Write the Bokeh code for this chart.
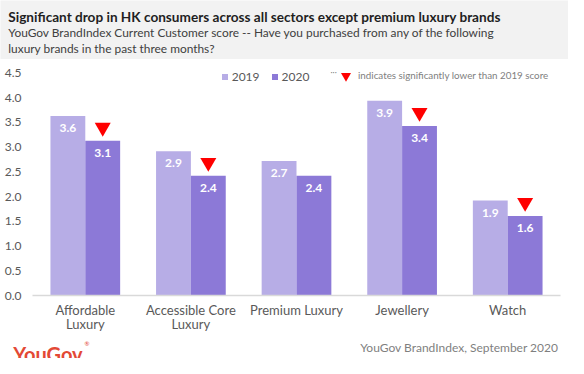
from bokeh.plotting import figure
from bokeh.layouts import column
from bokeh.models import (ColumnDataSource, FactorRange, Range1d, FixedTicker, Label,
                          Legend, LegendItem, PrintfTickFormatter, CategoricalAxis,
                          CustomJSTickFormatter)
from bokeh.transform import dodge
from bokeh.core.properties import value
from bokeh.embed import file_html
from bokeh.resources import INLINE

# ---- data ----
categories = ["Affordable Luxury", "Accessible Core Luxury", "Premium Luxury", "Jewellery", "Watch"]
label_line1 = ["Affordable", "Accessible Core", "Premium Luxury", "Jewellery", "Watch"]
label_line2 = ["Luxury", "Luxury", " ", " ", " "]
score_2019 = [3.63, 2.92, 2.72, 3.94, 1.92]
score_2020 = [3.13, 2.42, 2.42, 3.43, 1.61]
significant_drop = [True, True, False, True, True]
y_ticks = [0.0, 0.5, 1.0, 1.5, 2.0, 2.5, 3.0, 3.5, 4.0, 4.5]
series_names = ["2019", "2020"]

title_text = "Significant drop in HK consumers across all sectors except premium luxury brands"
subtitle_lines = ["YouGov BrandIndex Current Customer score -- Have you purchased from any of the following",
                  "luxury brands in the past three months?"]
note_text = "indicates significantly lower than 2019 score"
source_text = "YouGov BrandIndex, September 2020"
logo_text = "YouGov"

# ---- style ----
C2019 = "#b7ade6"
C2020 = "#8c79d7"
RED = "#ff0000"
LOGO_RED = "#e34935"
HEADER_BG = "#f2f2f2"
FONT = "Lato"
W = 568
HEADER_H = 59
MAIN_H = 275
FOOTER_H = 358 - HEADER_H - MAIN_H  # 24
LEFT, RIGHT, TOP, BOTTOM = 32, 8, 5, 37
FB = HEADER_H + MAIN_H - BOTTOM  # frame bottom, whole-canvas pixels (297)


def fx(x):
    return x - LEFT


def fy(y):
    return FB - y


def plain_fig(h, bg):
    f = figure(width=W, height=h, x_range=Range1d(0, W), y_range=Range1d(h, 0),
               x_axis_location=None, y_axis_location=None, toolbar_location=None,
               output_backend="svg", min_border=0, outline_line_color=None,
               background_fill_color=bg, border_fill_color=bg, frame_align=False)
    f.grid.grid_line_color = None
    return f


# ---- header ----
header = plain_fig(HEADER_H, HEADER_BG)
header.add_layout(Label(x=7.8, y=16.7, text=title_text, text_font=FONT, text_font_style="bold",
                        text_font_size="13.6px", text_color="#1f1f1f",
                        text_baseline="alphabetic", text_align="left"))
for i, line in enumerate(subtitle_lines):
    header.add_layout(Label(x=7.8, y=32.2 + i * 15.6, text=line, text_font=FONT,
                            text_font_size="11.9px", text_color="#404040",
                            text_baseline="alphabetic", text_align="left"))

# ---- main chart ----
src = ColumnDataSource(dict(
    cat=categories,
    v2019=score_2019,
    v2020=score_2020,
    l2019=[f"{v:.1f}" for v in score_2019],
    l2020=[f"{v:.1f}" for v in score_2020],
))
flag_cats = [c for c, f in zip(categories, significant_drop) if f]
flag_vals = [v for v, f in zip(score_2020, significant_drop) if f]
tri_src = ColumnDataSource(dict(cat=flag_cats, y=[v + 0.27 for v in flag_vals]))

p = figure(width=W, height=MAIN_H, x_range=FactorRange(*categories), y_range=Range1d(0, 4.673),
           output_backend="svg", toolbar_location=None, frame_align=False,
           min_border_left=LEFT, min_border_right=RIGHT, min_border_top=TOP, min_border_bottom=BOTTOM,
           outline_line_color=None, background_fill_color="white", border_fill_color="white")

BW = 0.33
p.vbar(x=dodge("cat", -BW / 2, range=p.x_range), top="v2019", width=BW, source=src,
       fill_color=C2019, line_color=None)
p.vbar(x=dodge("cat", BW / 2, range=p.x_range), top="v2020", width=BW, source=src,
       fill_color=C2020, line_color=None)

for col, lab, off in (("v2019", "l2019", -BW / 2), ("v2020", "l2020", BW / 2)):
    p.text(x=dodge("cat", off, range=p.x_range), y=col, text=lab, source=src,
           text_color="white", text_font=value(FONT), text_font_style="bold",
           text_font_size="12px", text_align="center", text_baseline="middle", y_offset=12)

rtri = p.scatter(x=dodge("cat", BW / 2, range=p.x_range), y="y", source=tri_src,
                 marker="inverted_triangle", size=16, fill_color=RED, line_color=None)

# zero-size square markers: only used for the legend swatches
k19 = p.scatter(x=dodge("cat", -BW / 2, range=p.x_range), y="v2019", source=src, size=0,
                marker="square", fill_color=C2019, line_color=None)
k20 = p.scatter(x=dodge("cat", BW / 2, range=p.x_range), y="v2020", source=src, size=0,
                marker="square", fill_color=C2020, line_color=None)

p.grid.grid_line_color = None
p.yaxis.ticker = FixedTicker(ticks=y_ticks)
p.yaxis.formatter = PrintfTickFormatter(format="%.1f")
p.yaxis.axis_line_color = None
p.yaxis.major_tick_line_color = None
p.yaxis.minor_tick_line_color = None
p.yaxis.major_tick_out = 0
p.yaxis.major_tick_in = 0
p.yaxis.major_label_standoff = 11
p.yaxis.major_label_text_font = FONT
p.yaxis.major_label_text_font_size = "12px"
p.yaxis.major_label_text_color = "#595959"

fmt_code = "const i = cats.indexOf(tick); return i >= 0 ? lines[i] : tick;"
ax1 = p.xaxis[0]
ax1.formatter = CustomJSTickFormatter(args=dict(cats=categories, lines=label_line1), code=fmt_code)
ax1.axis_line_color = "#d9d9d9"
ax1.axis_line_width = 1.5
ax1.major_tick_line_color = None
ax1.minor_tick_line_color = None
ax1.major_tick_out = 0
ax1.major_tick_in = 0
ax1.major_label_standoff = 6
ax1.major_label_text_font = FONT
ax1.major_label_text_font_size = "13px"
ax1.major_label_text_color = "#595959"

ax2 = CategoricalAxis(formatter=CustomJSTickFormatter(args=dict(cats=categories, lines=label_line2),
                                                      code=fmt_code),
                      axis_line_color=None, major_tick_line_color=None, minor_tick_line_color=None,
                      major_tick_out=0, major_tick_in=0,
                      major_label_standoff=-5, major_label_text_font=FONT,
                      major_label_text_font_size="13px", major_label_text_color="#595959")
p.add_layout(ax2, "below")

leg1 = Legend(items=[LegendItem(label=series_names[0], renderers=[k19]),
                     LegendItem(label=series_names[1], renderers=[k20])],
              location=(fx(216.7), fy(85.9)), orientation="horizontal",
              glyph_width=15, glyph_height=15, label_height=15, label_standoff=-1, spacing=7,
              padding=0, margin=0, label_text_font=FONT, label_text_font_size="12px",
              label_text_color="#595959", background_fill_alpha=0, border_line_alpha=0)
p.add_layout(leg1)

leg2 = Legend(items=[LegendItem(label=note_text, renderers=[rtri])],
              location=(fx(333), fy(89.9)), orientation="horizontal",
              glyph_width=25, glyph_height=25, label_height=25, label_standoff=-1,
              padding=0, margin=0,
              label_text_font=FONT, label_text_font_size="9.8px", label_text_color="#808080",
              background_fill_alpha=0, border_line_alpha=0)
p.add_layout(leg2)

p.add_layout(Label(x=fx(330), y=fy(73.6), x_units="screen", y_units="screen", text="···",
                   text_font=FONT, text_font_size="8px", text_color="#808080",
                   text_baseline="middle", text_align="left"))

# ---- footer ----
footer = plain_fig(FOOTER_H, "white")
footer.add_layout(Label(x=12.7, y=19.5, text=logo_text, text_font=FONT, text_font_style="bold",
                        text_font_size="20px", text_color=LOGO_RED,
                        text_baseline="alphabetic", text_align="left"))
footer.add_layout(Label(x=84, y=5, text="®", text_font=FONT, text_font_size="6px",
                        text_color=LOGO_RED, text_baseline="top", text_align="left"))
footer.add_layout(Label(x=558, y=12.5, text=source_text, text_font=FONT, text_font_size="12px",
                        text_color="#7f7f7f", text_baseline="middle", text_align="right"))

layout = column(header, p, footer, spacing=0)
open("out.html", "w").write(file_html(layout, INLINE))
